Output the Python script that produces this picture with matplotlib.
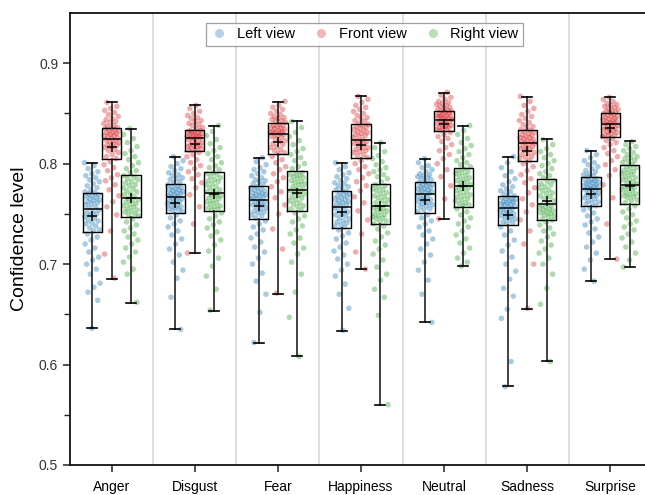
import numpy as np
import matplotlib
matplotlib.use('Agg')
import matplotlib.pyplot as plt
from matplotlib.lines import Line2D

plt.rcParams['font.family'] = ['Liberation Sans', 'DejaVu Sans']

categories = ['Anger', 'Disgust', 'Fear', 'Happiness', 'Neutral', 'Sadness', 'Surprise']
views = ['Left view', 'Front view', 'Right view']
colors = ['#1f77b4', '#d62728', '#2ca02c']

# ---- box statistics (order follows categories) ----
left_whislo = [0.636, 0.635, 0.6215, 0.6335, 0.642, 0.5783, 0.6831]
left_q1 = [0.732, 0.7513, 0.7454, 0.7364, 0.7513, 0.739, 0.7576]
left_med = [0.7553, 0.767, 0.7643, 0.757, 0.7695, 0.7556, 0.7749]
left_q3 = [0.771, 0.7798, 0.7782, 0.7729, 0.7814, 0.7675, 0.7864]
left_whishi = [0.801, 0.8067, 0.8057, 0.801, 0.805, 0.8067, 0.8129]
left_mean = [0.7477, 0.7606, 0.758, 0.7523, 0.7643, 0.749, 0.7699]

front_whislo = [0.6855, 0.7113, 0.6706, 0.6954, 0.745, 0.6557, 0.705]
front_q1 = [0.8047, 0.8126, 0.8092, 0.8057, 0.8325, 0.8024, 0.8265]
front_med = [0.825, 0.8258, 0.8295, 0.8235, 0.8437, 0.8209, 0.8394]
front_q3 = [0.836, 0.8338, 0.840, 0.8394, 0.8529, 0.8335, 0.8503]
front_whishi = [0.861, 0.8583, 0.8616, 0.8672, 0.8708, 0.8668, 0.8662]
front_mean = [0.817, 0.820, 0.8215, 0.8182, 0.8394, 0.8126, 0.8357]

right_whislo = [0.6617, 0.6537, 0.6083, 0.5597, 0.6984, 0.6031, 0.697]
right_q1 = [0.747, 0.753, 0.753, 0.7397, 0.7573, 0.7437, 0.760]
right_med = [0.7663, 0.7709, 0.7739, 0.758, 0.7775, 0.760, 0.7791]
right_q3 = [0.789, 0.7918, 0.7924, 0.7798, 0.7953, 0.7844, 0.7983]
right_whishi = [0.8348, 0.8377, 0.842, 0.8206, 0.8377, 0.8241, 0.8221]
right_mean = [0.766, 0.770, 0.7705, 0.758, 0.7775, 0.7626, 0.778]

# ---- individual scores (x1000), estimated from the scatter ----
anger_left = [801, 798, 795, 792, 790, 788, 786, 784, 782, 780, 778, 776, 774, 772,
              771, 770, 769, 768, 767, 766, 765, 764, 763, 762, 761, 760, 759, 757, 756,
              754, 752, 751, 750, 749, 747, 746, 744, 743, 741, 740, 738, 736, 734, 733,
              730, 727, 724, 720, 716, 712, 707, 704, 700, 695, 690, 681, 677, 672, 664, 636]
anger_front = [861, 857, 855, 853, 851, 849, 847, 845, 844, 842, 841, 840, 838, 837,
               836, 835, 835, 834, 833, 832, 831, 831, 830, 829, 828, 828, 827, 826, 825,
               824, 823, 822, 821, 820, 819, 818, 817, 816, 814, 813, 811, 809, 807, 805,
               802, 799, 796, 793, 789, 786, 783, 779, 774, 768, 762, 757, 749, 733, 710, 686]
anger_right = [835, 829, 825, 821, 817, 813, 810, 807, 804, 801, 798, 795, 793, 791,
               788, 787, 785, 784, 782, 781, 779, 778, 776, 775, 773, 772, 770, 769, 767,
               765, 764, 763, 762, 760, 759, 758, 757, 755, 754, 753, 752, 750, 749, 748,
               745, 742, 739, 736, 733, 730, 727, 724, 720, 716, 712, 707, 702, 695, 690, 662]
disgust_left = [807, 803, 800, 797, 795, 793, 791, 789, 788, 786, 785, 784, 782, 781,
                779, 778, 777, 776, 775, 774, 774, 773, 772, 771, 770, 770, 769, 768, 767,
                766, 765, 764, 763, 762, 761, 760, 759, 758, 757, 756, 755, 754, 753, 752,
                749, 746, 743, 740, 737, 733, 729, 725, 720, 715, 709, 702, 694, 686, 667, 635]
disgust_front = [858, 855, 852, 850, 848, 846, 845, 843, 842, 840, 839, 838, 836, 835,
                 833, 833, 832, 832, 831, 831, 830, 829, 829, 828, 828, 827, 827, 826, 826,
                 825, 824, 823, 822, 821, 820, 819, 818, 818, 817, 816, 815, 815, 814, 813,
                 811, 809, 807, 804, 801, 798, 795, 792, 789, 785, 781, 776, 769, 757, 740, 711]
disgust_right = [838, 832, 828, 824, 820, 816, 813, 810, 807, 804, 801, 798, 796, 794,
                 791, 790, 789, 787, 786, 784, 783, 782, 780, 779, 777, 776, 774, 773, 772,
                 770, 769, 768, 767, 766, 765, 763, 762, 761, 760, 758, 757, 756, 755, 754,
                 751, 748, 745, 742, 739, 736, 732, 728, 724, 719, 713, 706, 698, 688, 675, 654]
fear_left = [806, 802, 799, 796, 794, 792, 790, 788, 786, 784, 783, 782, 780, 779,
             777, 776, 775, 774, 773, 772, 771, 770, 769, 769, 768, 767, 766, 765, 765,
             763, 762, 761, 760, 759, 758, 757, 756, 754, 753, 752, 751, 749, 748, 746,
             743, 740, 737, 734, 730, 726, 722, 717, 712, 706, 700, 691, 683, 670, 652, 622]
fear_front = [862, 858, 856, 854, 852, 850, 849, 847, 846, 845, 844, 843, 842, 841,
              839, 838, 838, 837, 836, 835, 835, 834, 833, 832, 832, 831, 831, 830, 830,
              829, 828, 827, 826, 825, 823, 822, 820, 819, 817, 816, 814, 813, 811, 810,
              807, 804, 801, 797, 794, 790, 786, 782, 777, 772, 766, 759, 750, 735, 715, 671]
fear_right = [842, 836, 831, 827, 823, 819, 815, 812, 809, 806, 803, 800, 797, 795,
              791, 790, 789, 788, 787, 786, 785, 783, 782, 781, 780, 779, 777, 776, 775,
              773, 772, 771, 770, 768, 767, 766, 764, 763, 761, 760, 758, 757, 755, 754,
              751, 748, 745, 742, 738, 734, 730, 726, 721, 716, 710, 702, 690, 672, 647, 608]
happiness_left = [801, 797, 794, 791, 789, 787, 785, 783, 781, 780, 778, 777, 775, 774,
                  772, 771, 770, 769, 768, 767, 766, 765, 764, 763, 762, 761, 760, 759, 758,
                  756, 755, 753, 752, 750, 749, 748, 746, 745, 743, 742, 741, 739, 738, 737,
                  734, 731, 728, 725, 721, 717, 713, 709, 705, 700, 694, 688, 680, 670, 656, 634]
happiness_front = [867, 864, 861, 858, 856, 854, 852, 850, 848, 846, 845, 843, 842, 840,
                   839, 838, 837, 836, 835, 834, 833, 832, 831, 830, 829, 828, 827, 826, 824,
                   823, 822, 821, 820, 819, 818, 816, 815, 814, 813, 812, 811, 809, 808, 806,
                   803, 800, 797, 794, 790, 786, 782, 778, 773, 767, 761, 753, 744, 730, 712, 695]
happiness_right = [821, 816, 812, 808, 805, 802, 799, 796, 794, 792, 789, 787, 785, 782,
                   779, 778, 777, 775, 774, 773, 771, 770, 768, 767, 766, 764, 763, 761, 760,
                   757, 756, 755, 754, 753, 752, 750, 749, 748, 747, 746, 745, 743, 742, 740,
                   738, 735, 731, 727, 723, 719, 715, 710, 704, 697, 690, 684, 675, 667, 649, 560]
neutral_left = [805, 801, 798, 796, 794, 792, 790, 789, 788, 787, 786, 785, 784, 782,
                781, 780, 779, 779, 778, 777, 776, 775, 775, 774, 773, 772, 771, 771, 770,
                768, 767, 766, 765, 764, 763, 762, 761, 760, 759, 758, 757, 755, 754, 752,
                749, 746, 743, 740, 737, 733, 729, 725, 720, 715, 709, 702, 694, 684, 670, 642]
neutral_front = [871, 868, 866, 864, 862, 861, 860, 859, 858, 857, 856, 855, 854, 853,
                 852, 852, 851, 850, 850, 849, 848, 848, 847, 847, 846, 846, 845, 845, 844,
                 843, 842, 842, 841, 840, 839, 839, 838, 837, 836, 836, 835, 834, 834, 833,
                 831, 829, 827, 825, 822, 819, 816, 813, 809, 805, 800, 794, 787, 778, 765, 745]
neutral_right = [838, 833, 829, 825, 821, 818, 815, 812, 809, 806, 803, 801, 799, 797,
                 795, 793, 792, 791, 790, 788, 787, 786, 784, 783, 782, 781, 779, 778, 777,
                 776, 775, 773, 772, 771, 769, 768, 767, 765, 764, 763, 761, 760, 759, 758,
                 755, 752, 749, 746, 743, 740, 737, 733, 729, 725, 721, 716, 711, 706, 702, 698]
sadness_left = [807, 801, 796, 792, 788, 785, 782, 779, 777, 775, 773, 772, 770, 768,
                767, 766, 765, 765, 764, 763, 762, 762, 761, 760, 759, 759, 758, 757, 756,
                755, 754, 753, 752, 751, 750, 749, 748, 747, 746, 745, 744, 742, 741, 740,
                737, 733, 729, 724, 719, 713, 707, 700, 693, 685, 676, 668, 655, 646, 603, 578]
sadness_front = [867, 862, 858, 855, 852, 849, 847, 845, 843, 841, 839, 837, 836, 834,
                 833, 832, 831, 830, 829, 828, 827, 826, 826, 825, 824, 823, 822, 822, 821,
                 820, 819, 818, 817, 816, 815, 814, 813, 811, 810, 809, 807, 806, 805, 803,
                 800, 797, 793, 789, 785, 781, 776, 771, 765, 759, 752, 744, 733, 720, 700, 656]
sadness_right = [824, 819, 815, 812, 809, 806, 803, 800, 798, 795, 792, 790, 788, 786,
                 783, 782, 780, 779, 777, 776, 774, 773, 771, 770, 768, 767, 765, 763, 761,
                 759, 758, 757, 756, 755, 754, 753, 752, 751, 750, 749, 748, 747, 745, 744,
                 742, 739, 736, 733, 730, 727, 723, 719, 715, 711, 706, 700, 690, 676, 660, 603]
surprise_left = [813, 809, 806, 803, 801, 799, 797, 795, 793, 792, 790, 789, 788, 787,
                 785, 784, 784, 783, 782, 781, 781, 780, 779, 778, 778, 777, 776, 776, 775,
                 774, 773, 772, 771, 770, 769, 768, 767, 766, 765, 763, 762, 761, 760, 758,
                 756, 754, 751, 748, 745, 742, 739, 735, 731, 727, 722, 717, 711, 704, 695, 683]
surprise_front = [866, 864, 862, 860, 859, 858, 857, 856, 855, 854, 853, 852, 851, 851,
                  850, 849, 848, 847, 847, 846, 845, 844, 844, 843, 842, 842, 841, 840, 840,
                  839, 838, 837, 836, 835, 834, 834, 833, 832, 831, 830, 829, 828, 828, 827,
                  825, 823, 821, 819, 816, 813, 810, 807, 803, 799, 794, 788, 779, 766, 740, 705]
surprise_right = [822, 819, 817, 815, 813, 811, 809, 807, 806, 805, 803, 802, 801, 799,
                  797, 796, 795, 793, 792, 791, 790, 789, 787, 786, 785, 784, 782, 781, 780,
                  778, 777, 776, 775, 774, 773, 771, 770, 769, 768, 767, 766, 764, 763, 761,
                  758, 755, 752, 749, 746, 743, 740, 737, 734, 730, 726, 722, 717, 711, 704, 697]

points = [
    [anger_left, disgust_left, fear_left, happiness_left, neutral_left, sadness_left, surprise_left],
    [anger_front, disgust_front, fear_front, happiness_front, neutral_front, sadness_front, surprise_front],
    [anger_right, disgust_right, fear_right, happiness_right, neutral_right, sadness_right, surprise_right],
]
stats_src = [
    (left_whislo, left_q1, left_med, left_q3, left_whishi, left_mean),
    (front_whislo, front_q1, front_med, front_q3, front_whishi, front_mean),
    (right_whislo, right_q1, right_med, right_q3, right_whishi, right_mean),
]

# ---- figure ----
W, H = 645, 495
fig = plt.figure(figsize=(W / 100, H / 100), dpi=100)
ax = fig.add_axes([70 / W, 30 / H, 582 / W, 452 / H])

offsets = [-0.232, 0.0, 0.232]
box_w = 0.235
jit_w = 0.095

for i in range(6):
    ax.axvline(i + 0.5, color='#d4d4d4', lw=1.1, zorder=0)

for v in range(3):
    for c in range(len(categories)):
        vals = np.array(points[v][c]) / 1000.0
        n = len(vals)
        frac = (np.arange(n) * 0.6180339887 + 0.37 * c + 0.21 * v) % 1.0
        xs = c + offsets[v] + (frac - 0.5) * 2 * jit_w
        ax.scatter(xs, vals, s=16, color=colors[v], alpha=0.38,
                   edgecolors='none', zorder=2)

    lo, q1, med, q3, hi, mean = stats_src[v]
    stats = [dict(whislo=lo[c], q1=q1[c], med=med[c], q3=q3[c], whishi=hi[c],
                  mean=mean[c], fliers=[]) for c in range(len(categories))]
    ax.bxp(stats, positions=[c + offsets[v] for c in range(len(categories))],
           widths=box_w, showmeans=True, showfliers=False, manage_ticks=False,
           capwidths=0.12,
           boxprops=dict(color='black', lw=1.0),
           medianprops=dict(color='black', lw=1.1),
           whiskerprops=dict(color='#222222', lw=1.2),
           capprops=dict(color='black', lw=1.2),
           meanprops=dict(marker='+', markeredgecolor='black',
                          markerfacecolor='black', markersize=6.5,
                          markeredgewidth=1.1),
           zorder=3)

ax.set_xlim(-0.5, 6.5)
ax.set_ylim(0.5, 0.95)
ax.set_xticks(range(len(categories)))
ax.set_xticklabels(categories, fontsize=10)
ax.set_yticks([0.5, 0.6, 0.7, 0.8, 0.9])
ax.set_yticklabels(['0.5', '0.6', '0.7', '0.8', '0.9'], fontsize=10)
ax.set_yticks([0.55, 0.65, 0.75, 0.85], minor=True)
ax.tick_params(axis='both', which='major', direction='out', length=5, width=1.1,
               colors='#222222', labelcolor='#333333')
ax.tick_params(axis='y', which='minor', direction='out', length=4, width=1.0,
               colors='#222222')
ax.tick_params(axis='x', labelcolor='black', pad=6)

for s in ['left', 'bottom', 'top']:
    ax.spines[s].set_linewidth(1.3)
    ax.spines[s].set_color('#111111')
ax.spines['right'].set_visible(False)

ax.set_ylabel('Confidence level', fontsize=14, labelpad=8)

handles = [Line2D([], [], marker='o', ls='', color=colors[v], alpha=0.33,
                  markersize=6.5, markeredgewidth=0) for v in range(3)]
leg = ax.legend(handles, views, loc='upper center', bbox_to_anchor=(0.506, 0.978),
                ncol=3, frameon=True, fancybox=False, fontsize=10.5,
                borderaxespad=0, handletextpad=0.6, columnspacing=1.2,
                borderpad=0.3, handlelength=1.2)
leg.get_frame().set_edgecolor('#888888')
leg.get_frame().set_linewidth(0.9)

fig.savefig('out.png', dpi=100)
